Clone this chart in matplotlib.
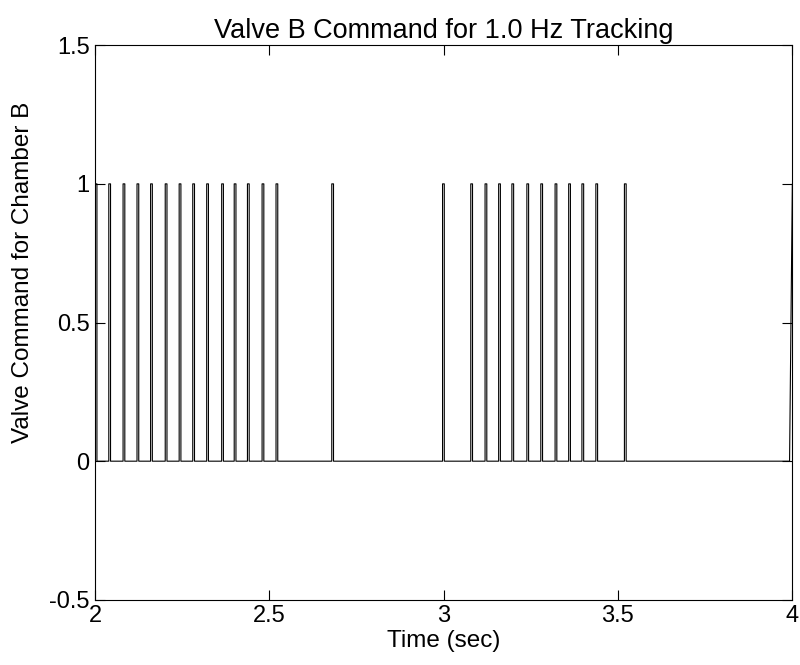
import numpy as np
import matplotlib
matplotlib.use("Agg")
import matplotlib.pyplot as plt

plt.rcParams['font.family'] = ['Liberation Sans', 'DejaVu Sans']

# Pulse onset times (sec), each pulse goes 0 -> 1 -> 0
pulse_starts = [2.000, 2.039, 2.080, 2.120, 2.159, 2.201, 2.241, 2.280, 2.320,
                2.363, 2.399, 2.437, 2.479, 2.519, 2.679,
                2.997, 3.078, 3.119, 3.158, 3.196, 3.239, 3.279, 3.320, 3.359,
                3.397, 3.437, 3.519, 3.993]
pulse_width = 0.005
t_start, t_end = 2.0, 4.0
high, low = 1.0, 0.0

xticks = [2, 2.5, 3, 3.5, 4]
xticklabels = ['2', '2.5', '3', '3.5', '4']
yticks = [-0.5, 0, 0.5, 1, 1.5]
yticklabels = ['-0.5', '0', '0.5', '1', '1.5']

t = [t_start]
v = [low]
for i, s in enumerate(pulse_starts):
    if i == len(pulse_starts) - 1:
        # last rise is sampled (slanted) and runs past the axis edge
        t += [s, t_end + 0.001, t_end + 0.1]
        v += [low, high, high]
    else:
        t += [s, s, s + pulse_width, s + pulse_width]
        v += [low, high, high, low]

fig = plt.figure(figsize=(8.0, 6.65), dpi=100)
ax = fig.add_axes([0.119, 0.098, 0.871, 0.834])
ax.plot(t, v, color='black', lw=0.8)
ax.set_xlim(2, 4)
ax.set_ylim(-0.5, 1.5)
ax.set_xticks(xticks)
ax.set_xticklabels(xticklabels)
ax.set_yticks(yticks)
ax.set_yticklabels(yticklabels)
ax.tick_params(direction='in', length=7, width=0.8, labelsize=17,
               top=True, right=True, pad=4, colors='black')
for sp in ax.spines.values():
    sp.set_linewidth(0.8)
ax.set_title('Valve B Command for 1.0 Hz Tracking', fontsize=19.5, pad=5)
ax.set_xlabel('Time (sec)', fontsize=17.5, labelpad=2)
ax.set_ylabel('Valve Command for Chamber B', fontsize=17.5, labelpad=8)
ax.yaxis.set_label_coords(-0.088, 0.59)

fig.savefig('out.png', dpi=100)
